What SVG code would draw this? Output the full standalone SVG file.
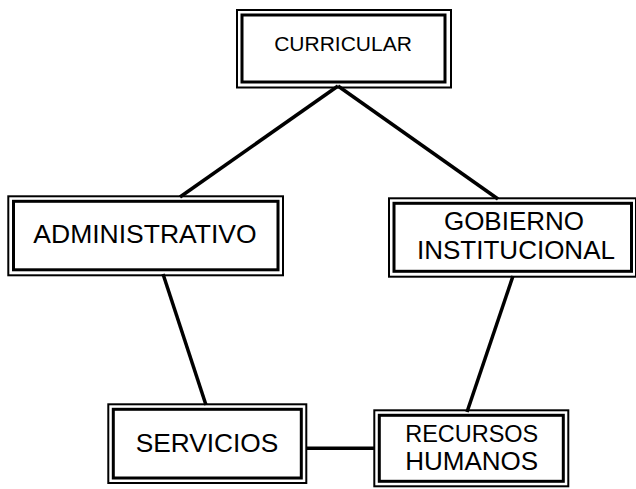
<svg xmlns="http://www.w3.org/2000/svg" width="636" height="489" viewBox="0 0 636 489">
<style>
.o{fill:none;stroke:#000;stroke-width:2}
.i{fill:none;stroke:#000;stroke-width:3}
.t{font-family:"Liberation Sans",Arial,sans-serif;fill:#000;text-anchor:middle}
.c{stroke:#000;stroke-width:3.5;fill:none}
</style>
<rect width="636" height="489" fill="#fff"/>
<g id="connectors">
<line class="c" x1="338" y1="86" x2="180" y2="197"/>
<line class="c" x1="338" y1="86" x2="498" y2="199"/>
<line class="c" x1="163" y1="274" x2="206" y2="405"/>
<line class="c" x1="513" y1="276" x2="467" y2="412"/>
<line class="c" x1="306" y1="448.3" x2="375" y2="448.3"/>
</g>
<g id="curricular">
<rect class="o" x="237" y="10" width="214" height="77.5"/>
<rect class="i" x="242" y="15" width="203" height="67"/>
<text class="t" x="343" y="51" font-size="21">CURRICULAR</text>
</g>
<g id="administrativo">
<rect class="o" x="8.3" y="196.3" width="274.7" height="79"/>
<rect class="i" x="13.5" y="201.3" width="264.5" height="68.5"/>
<text class="t" x="145" y="243" font-size="26.5">ADMINISTRATIVO</text>
</g>
<g id="gobierno">
<rect class="o" x="389" y="198.3" width="247" height="78.4"/>
<rect class="i" x="394" y="203.3" width="237.5" height="68"/>
<text class="t" x="514" y="230" font-size="26">GOBIERNO</text>
<text class="t" x="516" y="259" font-size="26">INSTITUCIONAL</text>
</g>
<g id="servicios">
<rect class="o" x="108.3" y="404.3" width="198" height="78.7"/>
<rect class="i" x="113.3" y="409.3" width="188" height="68.7"/>
<text class="t" x="207" y="451.5" font-size="26.3">SERVICIOS</text>
</g>
<g id="recursos">
<rect class="o" x="374.3" y="410.3" width="194" height="76"/>
<rect class="i" x="379.3" y="415.3" width="184" height="66"/>
<text class="t" x="471.7" y="441.5" font-size="24.5" textLength="133" lengthAdjust="spacingAndGlyphs">RECURSOS</text>
<text class="t" x="471.7" y="469.5" font-size="25" textLength="133" lengthAdjust="spacingAndGlyphs">HUMANOS</text>
</g>
</svg>
